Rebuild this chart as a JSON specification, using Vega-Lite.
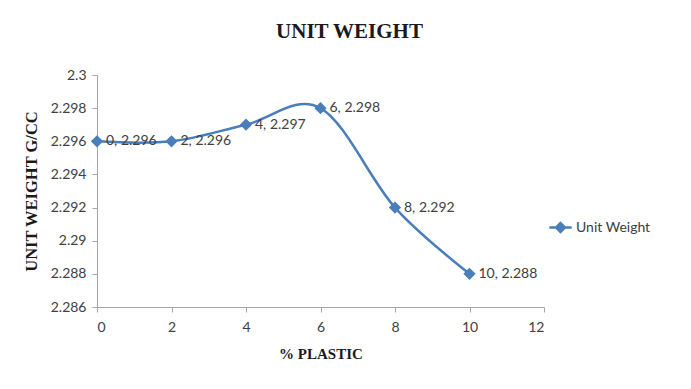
{
  "$schema": "https://vega.github.io/schema/vega-lite/v6.json",
  "width": 447,
  "height": 232,
  "autosize": {"type": "none"},
  "padding": {"left": 97, "top": 75, "right": 147, "bottom": 82},
  "background": "white",
  "title": {
    "text": "UNIT WEIGHT",
    "font": "Liberation Serif",
    "fontSize": 21,
    "fontWeight": "bold",
    "color": "#1a1a1a",
    "anchor": "middle",
    "dx": 29,
    "offset": 26
  },
  "data": {
    "values": [
      {"plastic": 0, "weight": 2.296, "series": "Unit Weight"},
      {"plastic": 2, "weight": 2.296, "series": "Unit Weight"},
      {"plastic": 4, "weight": 2.297, "series": "Unit Weight"},
      {"plastic": 6, "weight": 2.298, "series": "Unit Weight"},
      {"plastic": 8, "weight": 2.292, "series": "Unit Weight"},
      {"plastic": 10, "weight": 2.288, "series": "Unit Weight"}
    ]
  },
  "encoding": {
    "x": {
      "field": "plastic",
      "type": "quantitative",
      "scale": {"domain": [0, 12], "nice": false, "zero": false},
      "axis": {
        "title": "% PLASTIC",
        "values": [0, 2, 4, 6, 8, 10, 12],
        "grid": false,
        "domainColor": "#a6a6a6",
        "tickColor": "#a6a6a6",
        "tickSize": 5,
        "labelFont": "Lato",
        "labelFontSize": 14,
        "labelColor": "#404040",
        "labelPadding": 8,
        "titleFont": "Liberation Serif",
        "titleFontSize": 15,
        "titleFontWeight": "bold",
        "titleColor": "#1a1a1a",
        "titlePadding": 12
      }
    },
    "y": {
      "field": "weight",
      "type": "quantitative",
      "scale": {"domain": [2.286, 2.3], "nice": false, "zero": false},
      "axis": {
        "title": "UNIT WEIGHT G/CC",
        "values": [2.286, 2.288, 2.29, 2.292, 2.294, 2.296, 2.298, 2.3],
        "format": "~r",
        "grid": false,
        "domainColor": "#a6a6a6",
        "tickColor": "#a6a6a6",
        "tickSize": 5,
        "labelFont": "Lato",
        "labelFontSize": 14,
        "labelColor": "#404040",
        "labelPadding": 6,
        "titleFont": "Liberation Serif",
        "titleFontSize": 16.5,
        "titleFontWeight": "bold",
        "titleColor": "#1a1a1a",
        "titlePadding": 11
      }
    },
    "color": {
      "field": "series",
      "type": "nominal",
      "scale": {"range": ["#4a7ebb"]},
      "legend": {
        "title": null,
        "orient": "none",
        "legendX": 451,
        "legendY": 140,
        "symbolType": "M-1,0H1M0,-0.4L0.4,0L0,0.4L-0.4,0Z",
        "symbolSize": 500,
        "symbolStrokeWidth": 2.5,
        "symbolFillColor": "#4a7ebb",
        "labelFont": "Lato",
        "labelFontSize": 14,
        "labelColor": "#404040",
        "labelOffset": 3
      }
    }
  },
  "layer": [
    {
      "mark": {"type": "line", "interpolate": "cardinal", "strokeWidth": 2.5}
    },
    {
      "mark": {"type": "point", "shape": "diamond", "filled": true, "size": 150, "opacity": 1}
    },
    {
      "mark": {
        "type": "text",
        "align": "left",
        "baseline": "middle",
        "dx": 9,
        "font": "Lato",
        "fontSize": 14,
        "color": "#404040"
      },
      "encoding": {
        "text": {"field": "label"},
        "color": {"value": "#404040"}
      },
      "transform": [
        {"calculate": "datum.plastic + ', ' + format(datum.weight, '.3f')", "as": "label"}
      ]
    }
  ],
  "config": {
    "view": {"stroke": null}
  }
}
